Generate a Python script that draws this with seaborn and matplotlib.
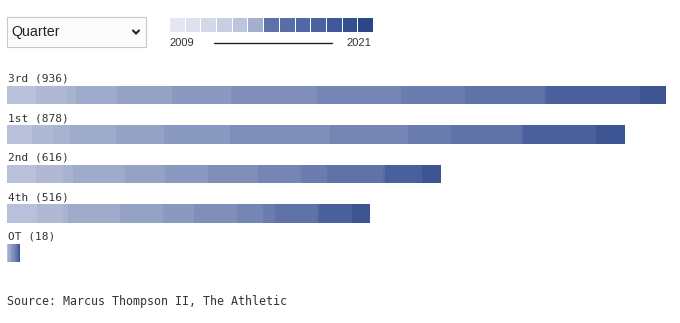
import numpy as np
import matplotlib
matplotlib.use("Agg")
import matplotlib.pyplot as plt
from matplotlib.colors import ListedColormap
from matplotlib.patches import Rectangle
from matplotlib.lines import Line2D
import seaborn as sns

# Three-pointers made per quarter, split by season (2009 .. 2021)
quarters = ["3rd", "1st", "2nd", "4th", "OT"]
years = list(range(2009, 2022))
threes_3rd = [41, 43, 14, 58, 78, 84, 122, 119, 91, 113, 3, 133, 37]
threes_1st = [36, 30, 24, 65, 68, 94, 142, 111, 61, 99, 3, 103, 42]
threes_2nd = [41, 38, 15, 74, 57, 60, 72, 60, 38, 79, 3, 53, 26]
threes_4th = [43, 37, 7, 73, 61, 45, 61, 36, 18, 60, 2, 47, 26]
threes_ot = [1, 1, 0, 2, 1, 2, 3, 2, 1, 2, 0, 2, 1]

bar_colors = ["#b8c1d9", "#afb9d4", "#a8b3d0", "#9eabcb", "#94a2c6", "#8a99c0",
              "#7f8fba", "#7586b4", "#6b7daf", "#5f73a8", "#586ca4", "#4a609c",
              "#3d5593"]
legend_colors = ["#e4e7f1", "#dde1ed", "#d4d9e8", "#c8cfe2", "#bcc5dd", "#a4afd0",
                 "#5d72a9", "#586ea7", "#5068a3", "#4a629f", "#3f5899", "#33508f",
                 "#2b4789"]

matrix = np.array([threes_3rd, threes_1st, threes_2nd, threes_4th, threes_ot])
totals = matrix.sum(axis=1)
cumulative = np.cumsum(matrix, axis=1)

sns.set_theme(style="white")
W, H = 680, 323
fig = plt.figure(figsize=(W / 100, H / 100), dpi=100)
fig.patch.set_facecolor("white")


def fx(px):
    return px / W


def fy(py):
    return 1 - py / H


mono = "DejaVu Sans Mono"
text_color = "#333333"

# Stacked horizontal bars: draw cumulative totals from the latest season back
ax = fig.add_axes([fx(7), fy(272.75), fx(666) - fx(7), 197.5 / H])
for k in range(len(years) - 1, -1, -1):
    sns.barplot(x=cumulative[:, k], y=quarters, orient="h", color=bar_colors[k],
                saturation=1, width=0.46, linewidth=0, ax=ax)

for i, (q, t) in enumerate(zip(quarters, totals)):
    ax.text(1, i - 0.41, f"{q} ({t})", family=mono, fontsize=8, color=text_color,
            ha="left", va="center")

ax.set_xlim(0, totals.max())
ax.set_ylim(len(quarters) - 0.5, -0.5)
ax.axis("off")

# Quarter selector box
fig.add_artist(Rectangle((fx(6.5), fy(46.5)), 139.5 / W, 29.5 / H,
                         transform=fig.transFigure, facecolor="#fbfbfb",
                         edgecolor="#c8c8c8", linewidth=0.8))
fig.text(fx(11), fy(32), "Quarter", family="Liberation Sans", fontsize=10.3,
         color="#222222", ha="left", va="center")
fig.add_artist(Line2D([fx(133), fx(136), fx(139)], [fy(30.5), fy(33.5), fy(30.5)],
                      transform=fig.transFigure, color="#222222", linewidth=1.5,
                      solid_capstyle="round", solid_joinstyle="miter"))

# Season colour key
lax = fig.add_axes([fx(169), fy(32), 204 / W, 15 / H])
sns.heatmap(np.arange(len(years)).reshape(1, -1), cmap=ListedColormap(legend_colors),
            cbar=False, linewidths=0.7, linecolor="white", xticklabels=False,
            yticklabels=False, ax=lax)
lax.axis("off")
fig.text(fx(169), fy(43), str(years[0]), family="Liberation Sans", fontsize=8,
         color=text_color, ha="left", va="center")
fig.text(fx(371), fy(43), str(years[-1]), family="Liberation Sans", fontsize=8,
         color=text_color, ha="right", va="center")
fig.add_artist(Line2D([fx(214), fx(332)], [fy(43), fy(43)], transform=fig.transFigure,
                      color="#222222", linewidth=1))

fig.text(fx(7), fy(301), "Source: Marcus Thompson II, The Athletic", family=mono,
         fontsize=8.4, color=text_color, ha="left", va="center")

fig.savefig("out.png", dpi=100, facecolor="white")
